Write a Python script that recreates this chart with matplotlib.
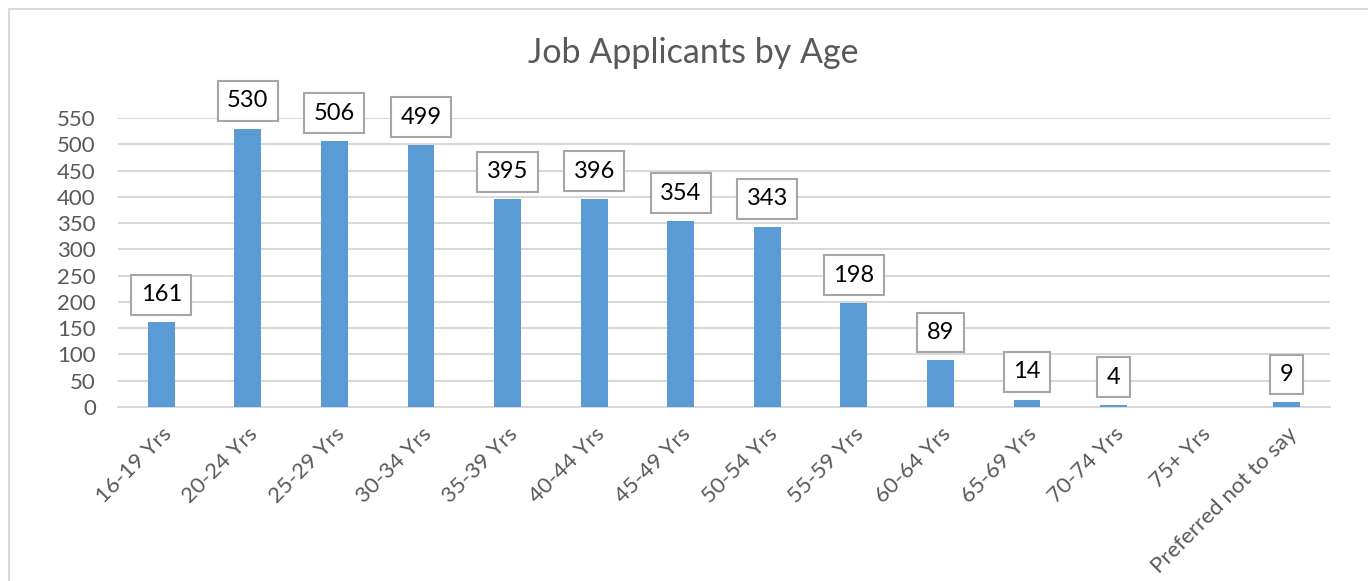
import matplotlib
matplotlib.use("Agg")
import matplotlib.pyplot as plt
from matplotlib.patches import Rectangle

categories = ["16-19 Yrs", "20-24 Yrs", "25-29 Yrs", "30-34 Yrs", "35-39 Yrs",
              "40-44 Yrs", "45-49 Yrs", "50-54 Yrs", "55-59 Yrs", "60-64 Yrs",
              "65-69 Yrs", "70-74 Yrs", "75+ Yrs", "Preferred not to say"]
values = [161, 530, 506, 499, 395, 396, 354, 343, 198, 89, 14, 4, 0, 9]
show_label = [True] * 12 + [False, True]
yticks = list(range(0, 551, 50))

plt.rcParams['font.family'] = ['Lato', 'DejaVu Sans']

fig = plt.figure(figsize=(13.68, 5.81), dpi=100)
W, H = 1368, 581
ax = fig.add_axes([118 / W, 1 - 407 / H, (1330 - 118) / W, (407 - 118) / H])

x = list(range(len(categories)))
ax.bar(x, values, width=0.31, color="#5B9BD5", zorder=3)
ax.set_xlim(-0.5, len(categories) - 0.5)
ax.set_ylim(0, 550)
ax.set_yticks(yticks)
ax.set_yticklabels([str(v) for v in yticks], fontsize=16, color="#595959")
ax.yaxis.grid(True, color="#D9D9D9", linewidth=1.5, zorder=0)
ax.set_axisbelow(True)
for s in ["top", "right", "left"]:
    ax.spines[s].set_visible(False)
ax.spines["bottom"].set_color("#D9D9D9")
ax.spines["bottom"].set_linewidth(1.5)
ax.tick_params(axis="y", length=0, pad=16)
ax.set_xticks(x)
ax.set_xticklabels(categories, rotation=45, ha="right", va="top",
                   rotation_mode="anchor", fontsize=16, color="#595959")
ax.tick_params(axis="x", length=0, pad=12)

for xi, v, show in zip(x, values, show_label):
    if not show:
        continue
    ax.annotate(str(v), xy=(xi, v), xytext=(0, 20), textcoords="offset points",
                ha="center", va="center", fontsize=17, color="black",
                annotation_clip=False, zorder=5,
                bbox=dict(boxstyle="square,pad=0.4", fc="white",
                          ec="#A6A6A6", lw=1.5))

fig.text(0.507, 1 - 53 / H, "Job Applicants by Age", ha="center", va="center",
         fontsize=24.5, color="#595959")

fig.patches.append(Rectangle((8.5 / W, -0.1), 1.2, 1 - 8.5 / H + 0.1,
                             transform=fig.transFigure, fill=False,
                             ec="#D9D9D9", lw=1.5, zorder=0))

fig.savefig("out.png", dpi=100, facecolor="white")
